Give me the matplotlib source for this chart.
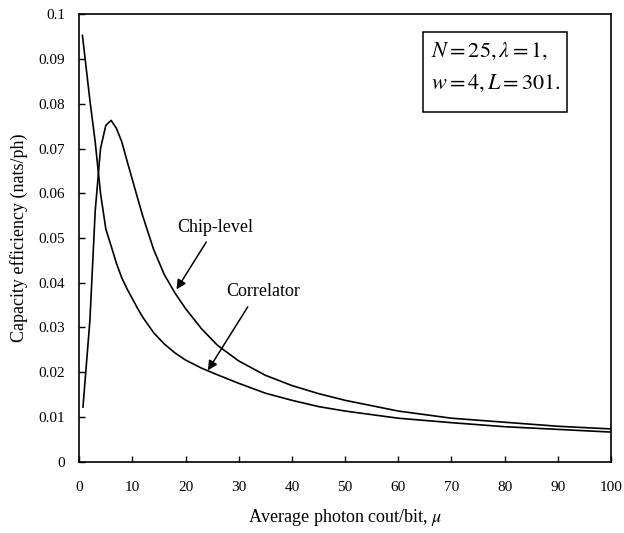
import matplotlib
matplotlib.use("Agg")
import matplotlib.pyplot as plt
from matplotlib.patches import Rectangle

# photon count per bit (x values)
mu_chip = [0.7, 2, 3, 4, 5, 6, 7, 8, 9, 10, 11, 12, 14, 16, 18, 20, 23, 26,
           30, 35, 40, 45, 50, 60, 70, 80, 90, 100]
eff_chip = [0.0122, 0.0315, 0.056, 0.070, 0.0752, 0.0763, 0.0745, 0.0715,
            0.0672, 0.0630, 0.0588, 0.0547, 0.0474, 0.0418, 0.0377, 0.0342,
            0.0297, 0.0260, 0.0225, 0.0193, 0.0170, 0.0152, 0.0137, 0.0113,
            0.0097, 0.0088, 0.0079, 0.0073]

mu_corr = [0.6, 2, 3, 4, 5, 6, 7, 8, 9, 10, 11, 12, 14, 16, 18, 20, 23, 26,
           30, 35, 40, 45, 50, 60, 70, 80, 90, 100]
eff_corr = [0.0953, 0.0808, 0.0715, 0.060, 0.0520, 0.0482, 0.0443, 0.0411,
            0.0386, 0.0364, 0.0342, 0.0322, 0.0288, 0.0263, 0.0243, 0.0227,
            0.0209, 0.0194, 0.0175, 0.0153, 0.0137, 0.0123, 0.0113, 0.0097,
            0.0087, 0.0078, 0.0072, 0.0066]

xticks = [0, 10, 20, 30, 40, 50, 60, 70, 80, 90, 100]
yticks = [0, 0.01, 0.02, 0.03, 0.04, 0.05, 0.06, 0.07, 0.08, 0.09, 0.1]
ytick_labels = ['0', '0.01', '0.02', '0.03', '0.04', '0.05', '0.06',
                '0.07', '0.08', '0.09', '0.1']

plt.rcParams['font.family'] = ['Liberation Serif', 'DejaVu Serif']
plt.rcParams['mathtext.fontset'] = 'stix'

fig = plt.figure(figsize=(6.24, 5.33), dpi=100)
ax = fig.add_axes([0.127, 0.134, 0.852, 0.839])

ax.plot(mu_chip, eff_chip, color='black', lw=1.2)
ax.plot(mu_corr, eff_corr, color='black', lw=1.2)

ax.set_xlim(0, 100)
ax.set_ylim(0, 0.1)
ax.set_xticks(xticks)
ax.set_yticks(yticks)
ax.set_yticklabels(ytick_labels)
ax.tick_params(direction='in', length=4, width=1, labelsize=11)
ax.tick_params(axis='x', pad=14)
ax.tick_params(axis='y', pad=10)
for s in ax.spines.values():
    s.set_linewidth(1.2)

ax.set_xlabel(r'Average photon cout/bit, $\mu$', fontsize=13, labelpad=9)
ax.set_ylabel('Capacity efficiency (nats/ph)', fontsize=13, labelpad=8)

# curve labels with arrows
arrow = dict(arrowstyle='-|>', color='black', lw=1.1, mutation_scale=14,
             shrinkA=0, shrinkB=0)
ax.text(18.4, 0.0524, 'Chip-level', fontsize=13, va='center', ha='left')
ax.annotate('', xy=(18.3, 0.0385), xytext=(23.9, 0.0491), arrowprops=arrow)
ax.text(27.6, 0.038, 'Correlator', fontsize=13, va='center', ha='left')
ax.annotate('', xy=(24.2, 0.0204), xytext=(31.7, 0.0346), arrowprops=arrow)

# parameter box
ax.add_patch(Rectangle((0.646, 0.782), 0.272, 0.179, transform=ax.transAxes,
                       fill=False, edgecolor='black', lw=1.1))
ax.text(0.662, 0.918, r'$N = 25, \lambda = 1,$', transform=ax.transAxes,
        fontsize=16, va='center', ha='left')
ax.text(0.662, 0.846, r'$w = 4, L = 301.$', transform=ax.transAxes,
        fontsize=16, va='center', ha='left')

fig.savefig('out.png', dpi=100)
